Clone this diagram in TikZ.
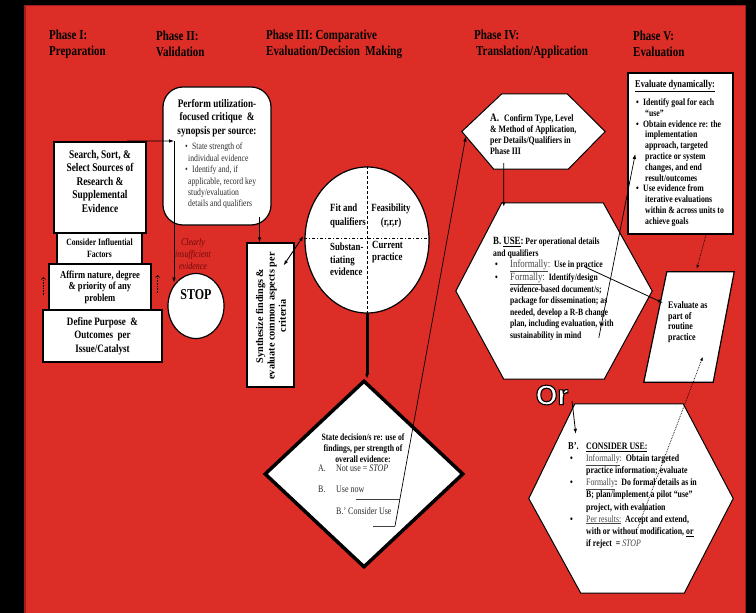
\documentclass[tikz,border=0pt]{standalone}
\usepackage{fontspec}
\setmainfont{Liberation Serif}[FakeStretch=0.8]
\newfontfamily\rotfont{Liberation Serif}
\newfontfamily\orfont{Liberation Sans Bold}[FakeBold=4]
\usetikzlibrary{arrows.meta,shapes.geometric,calc}
\definecolor{bgred}{RGB}{221,45,39}
\definecolor{edgered}{RGB}{160,28,24}
\definecolor{insuf}{RGB}{110,10,10}
\definecolor{bulgray}{RGB}{45,45,45}
\definecolor{lblgray}{RGB}{70,70,70}
\newcommand\fsz[2]{\fontsize{#1bp}{#2bp}\selectfont}
\newcommand\bitem[2]{\makebox[#1][l]{\hspace*{#2}\textbullet}}
\tikzset{
  boxst/.style={draw=black, fill=white, line width=1.2bp, inner sep=0pt, align=center},
  txtst/.style={inner sep=0pt, align=left},
  headst/.style={inner sep=0pt, align=left, anchor=west, font=\bfseries\fsz{13.7}{16}},
  arrst/.style={-{Latex[length=5bp,width=3.6bp]}, line width=0.8bp},
  dotarr/.style={densely dotted, line width=0.7bp, -{Latex[length=4bp,width=3bp]}},
  chev/.style={densely dotted, line width=0.6bp, -{Straight Barb[length=2bp,width=4bp]}},
  hexst/.style={draw=black, fill=white, line width=1bp},
  frame/.style={draw=none, inner sep=0pt}
}
\begin{document}
\begin{tikzpicture}[x=1bp,y=-1bp]
\useasboundingbox (0,0) rectangle (756,613);
\fill[black] (0,0) rectangle (756,613);
\fill[bgred] (24,5) rectangle (746,613);
\draw[edgered, line width=1.5bp] (24.75,5.75) rectangle (745.25,614);

% phase headings
\node[headst] (ph1) at (49,44) {Phase I:\\Preparation};
\node[headst] (ph2) at (156,44) {Phase II:\\Validation};
\node[headst] (ph3) at (266,44) {Phase III: Comparative\\Evaluation/Decision\ \ Making};
\node[headst] (ph4) at (474,44) {Phase IV:\\\hspace*{2bp}Translation/Application};
\node[headst] (ph5) at (633,44) {Phase V:\\Evaluation};

% Phase I stack
\node[boxst, line width=2bp, minimum width=92bp, minimum height=91bp] (search) at (100,187.5) {};
\node[txtst, align=center, font=\bfseries\fsz{11.7}{13.5}] (searcht) at (100,181) {Search, Sort, \&\\Select Sources of\\Research \&\\Supplemental\\Evidence};
\node[boxst, minimum width=85bp, minimum height=31bp, font=\bfseries\fsz{9.6}{12}] (consider) at (99.5,248.5) {Consider Influential\\Factors};
\node[boxst, minimum width=102bp, minimum height=46bp, font=\bfseries\fsz{10.7}{11.6}] (affirm) at (100,287) {Affirm nature, degree\\\& priority of any\\problem};
\node[boxst, line width=1.4bp, minimum width=119bp, minimum height=52bp, font=\bfseries\fsz{11.3}{13.5}] (define) at (102.5,336) {Define Purpose \ \&\\Outcomes\ \ per\\Issue/Catalyst};
\draw[chev] ($(affirm.west)+(-5,8)$) -- ($(affirm.west)+(-5,-10)$);
\draw[chev] ($(affirm.east)+(6,6)$) -- ($(affirm.east)+(6,-12)$);

% Phase II
\node[boxst, rounded corners=20bp, minimum width=108bp, minimum height=138bp] (crit) at (217,156) {};
\node[txtst, align=center, font=\bfseries\fsz{11.5}{13.5}] (critt) at (217,118) {Perform utilization-\\focused critique \ \&\\synopsis per source:};
\node[txtst, anchor=west, text=bulgray, font=\fsz{9.6}{11.4}] (critb) at (185,176) {\bitem{7bp}{0bp}State strength of\\\hspace*{3bp}individual evidence\\\bitem{7bp}{0bp}Identify and, if\\\hspace*{3bp}applicable, record key\\\hspace*{3bp}study/evaluation\\\hspace*{3bp}details and qualifiers};
\node[txtst, align=center, text=insuf, font=\itshape\fsz{10}{12}] (clear) at (193,254) {Clearly\\insufficient\\evidence};
\node[ellipse, draw=black, fill=white, line width=1.2bp, minimum width=56bp, minimum height=65bp, inner sep=0pt] (stop) at (196,306) {};
\node[inner sep=0pt, font=\bfseries\fsz{15}{15}] (stopt) at (196,295) {STOP};
\coordinate (critjoint) at (174,141);
\draw[arrst] ($(search.north west)+(74,0)$) -- (critjoint);
\draw[arrst] (critjoint) -- (critjoint |- stop.north west);

% Phase III
\node[boxst, minimum width=47bp, minimum height=144bp] (synth) at (270.5,315) {};
\node[inner sep=0pt, rotate=90, align=center, font=\rotfont\bfseries\fsz{10.2}{11.3}] (syntht) at (271,316) {Synthesize findings \&\\evaluate common aspects per\\criteria};
\coordinate (critout) at ($(crit.south east)+(-12,-9)$);
\draw[arrst] (critout) -- (critout |- synth.north);

\node[ellipse, draw=black, fill=white, line width=1.2bp, minimum width=124bp, minimum height=146bp, inner sep=0pt] (circ) at (367,240) {};
\draw[line width=0.8bp, dash pattern=on 3bp off 2bp on 1bp off 2bp] ($(circ.west)+(0,-2)$) -- ($(circ.east)+(0,-2)$);
\draw[line width=0.8bp, dash pattern=on 3bp off 2bp] (circ.north) -- (circ.south);
\node[txtst, anchor=west, font=\bfseries\fsz{11}{14}] (q1) at (330,216) {Fit and\\qualifiers};
\node[txtst, align=center, font=\bfseries\fsz{11}{14}] (q2) at (391,216) {Feasibility\\(r,r,r)};
\node[txtst, anchor=west, font=\bfseries\fsz{11}{12.5}] (q3) at (330,259.5) {Substan-\\tiating\\evidence};
\node[txtst, anchor=west, font=\bfseries\fsz{11}{12}] (q4) at (372,252.5) {Current\\practice};
\draw[{Latex[length=5bp,width=3.6bp]}-{Latex[length=5bp,width=3.6bp]}, line width=0.9bp] ($(synth.north east)+(-11,23)$) -- ($(circ.west)+(-1,-4)$);

\node[diamond, draw=black, fill=white, line width=3.5bp, minimum width=199bp, minimum height=187bp, inner sep=0pt] (diam) at (364,474) {};
\draw[line width=3bp, -{Latex[length=5bp,width=4bp]}] (circ.south) -- (circ.south |- diam.north);
\node[txtst, align=center, font=\bfseries\fsz{9.6}{11}] (dtitle) at (363,448) {State decision/s re: use of\\findings, per strength of\\overall evidence:};
\node[txtst, anchor=base west, text=bulgray, font=\fsz{10}{11}] (dA) at (318,471.5) {A.};
\node[txtst, anchor=base west, text=bulgray, font=\fsz{10}{11}] (dAt) at (336,471.5) {Not use = \textit{STOP}};
\node[txtst, anchor=base west, text=bulgray, font=\fsz{10}{11}] (dB) at (318,492.5) {B.};
\node[txtst, anchor=base west, text=bulgray, font=\fsz{10}{11}] (dBt) at (336,492.5) {Use now};
\node[txtst, anchor=base west, text=bulgray, font=\fsz{10}{11}] (dBp) at (336,514.5) {B.’ Consider Use};
\coordinate (uBs) at (356,499);
\coordinate (uB) at (400,499);
\coordinate (uBps) at (373,526);
\coordinate (uBp) at (395,526);
\draw[line width=0.9bp, black!75] (uBs) -- (uB);
\draw[line width=0.9bp, black!75] (uBps) -- (uBp);

% Phase IV
\node[frame, minimum width=143bp, minimum height=75bp] (Ahex) at (533.5,131.5) {};
\draw[hexst] (Ahex.west) -- ($(Ahex.north west)+(40,0)$) -- ($(Ahex.north east)+(-38,0)$) -- (Ahex.east) -- ($(Ahex.south east)+(-37,0)$) -- ($(Ahex.south west)+(32,0)$) -- cycle;
\node[txtst, anchor=west, font=\bfseries\fsz{9.8}{11}] (At) at (490,134.5) {{\fsz{11.5}{11}A.}\hspace{5bp}Confirm Type, Level\\\& Method of Application,\\per Details/Qualifiers in\\Phase III};
\draw[arrst, line width=0.7bp] (uBp) -- ($(Ahex.west)+(4,5)$);

\node[frame, minimum width=196bp, minimum height=176bp] (Bhex) at (554,291) {};
\draw[hexst] (Bhex.west) -- ($(Bhex.north west)+(46,0)$) -- ($(Bhex.north east)+(-49,0)$) -- (Bhex.east) -- ($(Bhex.south east)+(-48,0)$) -- ($(Bhex.south west)+(48,0)$) -- cycle;
\node[txtst, anchor=west, font=\bfseries\fsz{9.6}{11.5}] (Bt) at (493,289) {{\fsz{11}{11.5}B. \underline{USE}:}\ Per operational details\\and qualifiers\\\bitem{17bp}{2bp}{\mdseries\color{lblgray}\fsz{11}{11.5}\underline{Informally}:}\ \ Use in practice\\\bitem{17bp}{2bp}{\mdseries\color{lblgray}\fsz{11}{11.5}\underline{Formally}:}\ \ Identify/design\\\hspace*{17bp}evidence-based document/s;\\\hspace*{17bp}package for dissemination; as\\\hspace*{17bp}needed, develop a R-B change\\\hspace*{17bp}plan, including evaluation, with\\\hspace*{17bp}sustainability in mind};
\draw[arrst] ($(Ahex.south west)+(42,-6)$) -- ($(Bhex.north west)+(48,4)$);

% Phase V
\node[boxst, line width=1.5bp, minimum width=105bp, minimum height=161bp] (evald) at (680.5,153.5) {};
\node[txtst, anchor=base west, font=\bfseries\fsz{10.4}{12}] (evt) at (635,87.5) {\underline{Evaluate dynamically:}};
\node[txtst, anchor=west, font=\bfseries\fsz{9.7}{10.8}] (evl) at (636,162.5) {\bitem{7bp}{0bp}Identify goal for each\\\hspace*{9bp}“use”\\\bitem{7bp}{0bp}Obtain evidence re: the\\\hspace*{9bp}implementation\\\hspace*{9bp}approach, targeted\\\hspace*{9bp}practice or system\\\hspace*{9bp}changes, and end\\\hspace*{9bp}result/outcomes\\\bitem{7bp}{0bp}Use evidence from\\\hspace*{9bp}iterative evaluations\\\hspace*{9bp}within \& across units to\\\hspace*{9bp}achieve goals};

\node[frame, minimum width=90bp, minimum height=110bp] (par) at (689,327) {};
\draw[hexst, line width=1.2bp] ($(par.north west)+(23,0)$) -- (par.north east) -- ($(par.south east)+(-21,0)$) -- (par.south west) -- cycle;
\node[txtst, anchor=west, font=\bfseries\fsz{10}{10.7}] (part) at (668,322) {Evaluate as\\part of\\routine\\practice};

\draw[arrst] ($(Bhex.north west)+(129,64)$) -- ($(par.north west)+(19,31)$);
\draw[arrst, line width=0.7bp] ($(Bhex.north west)+(143,135)$) -- ($(evald.west)+(8,0.5)$);
\draw[dotarr] ($(evald.south west)+(79,-1)$) -- ($(par.north west)+(53,-3)$);

% Or and B'
\node[inner sep=0pt, text=white, font=\orfont\fsz{28}{28}] (ortext) at (552,395) {\special{pdf:literal direct 0 0 0 RG}Or};
\node[frame, minimum width=204bp, minimum height=189bp] (Bp) at (631,498.5) {};
\draw[hexst] (Bp.west) -- ($(Bp.north west)+(46,0)$) -- ($(Bp.north east)+(-50,0)$) -- (Bp.east) -- ($(Bp.south east)+(-49,0)$) -- ($(Bp.south west)+(52,0)$) -- cycle;
\node[txtst, anchor=west, font=\bfseries\fsz{9.8}{12.1}] (Bpt) at (568,495.5) {\makebox[18bp][l]{\fsz{10.5}{12}B’.}\underline{CONSIDER USE:}\\\bitem{18bp}{2bp}{\mdseries\color{lblgray}\underline{Informally}:}\ \ Obtain targeted\\\hspace*{18bp}practice information; evaluate\\\bitem{18bp}{2bp}{\mdseries\color{lblgray}\underline{Formally}}:\ \ Do formal details as in\\\hspace*{18bp}B; plan/implement a pilot “use”\\\hspace*{18bp}project, with evaluation\\\bitem{18bp}{2bp}{\mdseries\color{lblgray}\underline{Per results:}}\ \ Accept and extend,\\\hspace*{18bp}with or without modification, \underline{or}\\\hspace*{18bp}if reject \ = {\mdseries\itshape\color{lblgray}STOP}};
\draw[arrst] ($(ortext.center)+(20,6)$) -- ($(Bp.north west)+(47,30)$);
\draw[dotarr] ($(Bp.north west)+(109,124)$) -- ($(par.north west)+(59,85)$);
\end{tikzpicture}
\end{document}
